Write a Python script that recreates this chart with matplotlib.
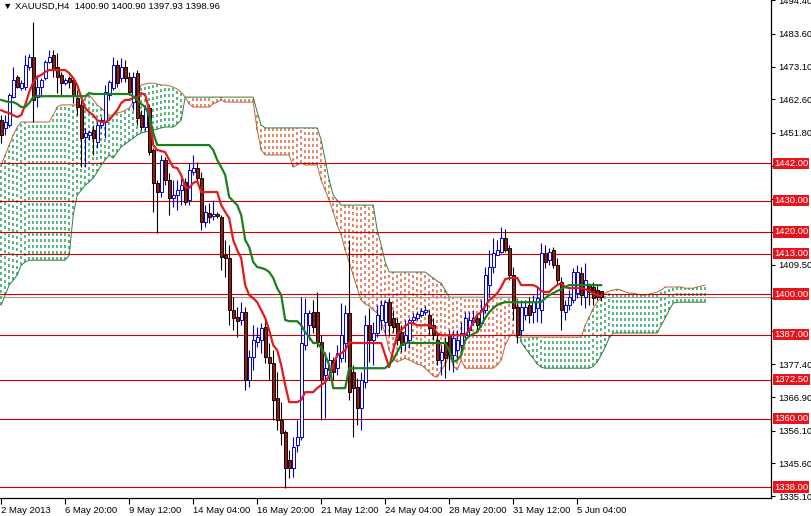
import numpy as np
import matplotlib
matplotlib.use('Agg')
from matplotlib import pyplot as plt
from matplotlib.transforms import blended_transform_factory

plt.rcParams['font.family'] = ['Liberation Sans', 'DejaVu Sans']
plt.rcParams['lines.scale_dashes'] = False

# XAUUSD H4 candles
opens = [
    1455.9, 1453.4, 1454.3, 1463.3, 1469.8, 1466.2, 1466.5, 1473.0, 1476.2, 1463.3,
    1466.5, 1469.4, 1474.6, 1476.8, 1473.0, 1470.4, 1467.8, 1469.4, 1468.8, 1463.0,
    1460.8, 1450.5, 1451.1, 1452.7, 1448.9, 1454.3, 1455.3, 1464.0, 1466.2, 1473.6,
    1469.4, 1473.0, 1469.8, 1461.7, 1471.0, 1457.5, 1453.7, 1459.8, 1446.3, 1435.7,
    1432.8, 1443.1, 1436.6, 1430.9, 1431.8, 1433.4, 1436.0, 1430.2, 1439.2, 1440.5,
    1437.3, 1423.1, 1426.0, 1425.1, 1425.7, 1424.8, 1412.5, 1411.6, 1394.9, 1392.6,
    1391.7, 1394.2, 1372.4, 1379.8, 1384.6, 1385.2, 1389.4, 1379.8, 1377.8, 1366.6,
    1359.5, 1355.6, 1346.7, 1344.1, 1351.5, 1354.0, 1383.6, 1390.0, 1394.2, 1394.2,
    1384.6, 1374.0, 1375.6, 1378.8, 1376.2, 1379.4, 1384.3, 1393.9, 1375.0, 1370.1,
    1363.4, 1371.7, 1390.0, 1385.2, 1387.5, 1391.7, 1391.0, 1397.4, 1392.3, 1390.7,
    1387.8, 1384.6, 1385.2, 1391.7, 1392.3, 1393.3, 1394.2, 1393.3, 1390.0, 1385.2,
    1378.8, 1384.6, 1386.8, 1380.4, 1382.0, 1383.6, 1386.8, 1388.4, 1391.0, 1392.3,
    1390.7, 1394.9, 1402.9, 1408.7, 1412.5, 1413.5, 1418.0, 1414.8, 1406.1, 1395.8,
    1388.4, 1393.3, 1396.5, 1394.2, 1395.5, 1394.9, 1413.2, 1410.9, 1414.1, 1409.3,
    1403.9, 1394.2, 1396.5, 1398.1, 1400.3, 1406.8, 1399.0, 1402.9, 1402.3, 1401.3,
    1400.90,
]
highs = [
    1457.5, 1457.5, 1464.6, 1473.0, 1470.4, 1468.8, 1476.8, 1477.1, 1487.4, 1470.4,
    1469.4, 1475.2, 1478.4, 1478.4, 1477.5, 1471.4, 1469.4, 1470.1, 1469.8, 1465.6,
    1462.4, 1453.4, 1452.7, 1454.3, 1455.3, 1456.9, 1467.2, 1468.8, 1476.2, 1475.2,
    1475.8, 1475.2, 1471.4, 1471.4, 1472.0, 1459.1, 1460.8, 1460.8, 1446.9, 1436.6,
    1444.7, 1444.0, 1438.9, 1436.6, 1436.6, 1437.3, 1437.3, 1442.1, 1444.7, 1442.4,
    1439.2, 1428.6, 1429.3, 1430.2, 1426.4, 1425.4, 1417.4, 1415.8, 1399.0, 1395.8,
    1397.4, 1395.8, 1382.0, 1390.0, 1389.4, 1390.7, 1392.6, 1384.3, 1382.0, 1375.0,
    1365.3, 1356.3, 1349.9, 1354.0, 1359.5, 1399.0, 1398.7, 1394.9, 1398.1, 1400.7,
    1386.8, 1381.4, 1381.4, 1379.8, 1383.6, 1397.1, 1396.5, 1417.4, 1377.2, 1373.0,
    1375.0, 1393.3, 1395.5, 1391.0, 1396.5, 1398.1, 1398.1, 1398.7, 1394.9, 1392.3,
    1390.0, 1391.7, 1392.3, 1393.9, 1394.5, 1395.5, 1396.2, 1394.9, 1392.3, 1387.5,
    1383.6, 1386.2, 1388.4, 1388.4, 1388.4, 1391.0, 1394.2, 1394.2, 1394.9, 1393.3,
    1398.1, 1408.7, 1414.1, 1418.0, 1417.4, 1421.5, 1420.9, 1415.8, 1408.7, 1397.1,
    1398.1, 1398.1, 1399.0, 1399.7, 1402.3, 1416.4, 1415.8, 1414.8, 1415.1, 1411.6,
    1405.5, 1398.1, 1401.3, 1408.4, 1409.3, 1408.7, 1410.0, 1403.5, 1403.9, 1403.2,
    1400.90,
]
lows = [
    1448.5, 1451.1, 1453.7, 1463.0, 1466.2, 1465.6, 1465.6, 1472.0, 1455.3, 1460.1,
    1463.3, 1468.8, 1474.3, 1469.8, 1464.6, 1464.0, 1467.2, 1466.2, 1461.4, 1457.5,
    1440.8, 1440.8, 1449.5, 1444.7, 1446.9, 1453.4, 1450.1, 1462.4, 1465.6, 1466.5,
    1468.1, 1468.1, 1464.0, 1459.1, 1454.3, 1452.7, 1452.7, 1444.7, 1426.4, 1419.6,
    1431.2, 1435.0, 1425.4, 1428.0, 1427.0, 1428.6, 1428.6, 1428.6, 1438.3, 1436.0,
    1420.6, 1421.5, 1422.8, 1423.8, 1424.4, 1407.7, 1405.5, 1390.0, 1388.4, 1386.2,
    1390.0, 1369.2, 1370.1, 1375.6, 1383.0, 1381.0, 1377.8, 1372.4, 1359.5, 1356.3,
    1351.5, 1337.7, 1340.9, 1341.2, 1349.2, 1353.1, 1382.0, 1385.2, 1387.5, 1383.0,
    1359.5, 1360.2, 1372.4, 1372.4, 1374.0, 1378.2, 1378.2, 1366.0, 1354.0, 1357.9,
    1356.3, 1369.8, 1378.2, 1377.2, 1386.2, 1388.4, 1386.8, 1386.8, 1387.8, 1383.6,
    1381.4, 1382.0, 1382.7, 1390.7, 1391.7, 1392.6, 1393.3, 1386.8, 1385.2, 1377.2,
    1374.0, 1373.0, 1375.6, 1374.9, 1378.8, 1380.4, 1385.2, 1386.8, 1390.0, 1387.8,
    1389.4, 1393.9, 1399.0, 1406.8, 1412.5, 1413.2, 1413.5, 1404.5, 1391.7, 1384.3,
    1386.8, 1391.7, 1390.7, 1390.7, 1391.0, 1390.7, 1408.4, 1409.3, 1408.4, 1402.9,
    1388.4, 1391.7, 1394.9, 1397.1, 1398.7, 1396.5, 1395.5, 1396.5, 1396.5, 1398.1,
    1397.93,
]
closes = [
    1451.1, 1455.3, 1464.0, 1468.8, 1466.5, 1467.8, 1473.6, 1476.2, 1462.4, 1466.5,
    1468.8, 1474.6, 1476.2, 1472.0, 1469.8, 1467.8, 1468.8, 1468.1, 1464.0, 1460.1,
    1450.1, 1451.8, 1452.1, 1450.1, 1454.3, 1455.9, 1464.9, 1468.1, 1473.6, 1467.8,
    1473.0, 1469.4, 1464.9, 1469.8, 1456.6, 1453.7, 1459.8, 1445.6, 1435.7, 1432.8,
    1443.1, 1436.6, 1430.9, 1431.8, 1433.4, 1435.0, 1429.6, 1439.9, 1440.5, 1437.3,
    1423.1, 1426.4, 1424.8, 1425.7, 1425.1, 1411.9, 1411.6, 1394.9, 1392.3, 1391.3,
    1394.2, 1372.4, 1379.8, 1385.2, 1386.2, 1389.1, 1379.8, 1377.8, 1366.0, 1359.5,
    1355.3, 1344.1, 1344.1, 1350.8, 1354.0, 1384.3, 1393.9, 1393.9, 1389.4, 1384.6,
    1372.4, 1376.2, 1378.8, 1375.0, 1381.0, 1386.8, 1393.9, 1368.5, 1369.8, 1363.4,
    1372.4, 1390.0, 1385.2, 1387.5, 1393.3, 1396.5, 1397.4, 1390.0, 1389.4, 1385.2,
    1383.6, 1386.8, 1391.7, 1392.6, 1393.6, 1394.5, 1394.9, 1389.1, 1386.8, 1378.8,
    1381.4, 1379.4, 1380.4, 1385.9, 1385.2, 1387.5, 1392.3, 1391.7, 1392.3, 1390.0,
    1394.9, 1406.1, 1408.7, 1413.2, 1414.1, 1418.0, 1414.1, 1406.1, 1395.5, 1386.8,
    1395.8, 1395.8, 1393.3, 1397.4, 1398.7, 1413.2, 1410.3, 1413.5, 1409.3, 1404.5,
    1394.9, 1396.5, 1399.0, 1407.1, 1407.1, 1399.7, 1404.5, 1400.7, 1398.7, 1399.0,
    1398.96,
]

# Ichimoku lines as drawn on the chart
tenkan = [
    1459.1, 1458.5, 1458.2, 1457.5, 1456.9, 1457.5, 1460.8, 1464.9, 1468.1, 1469.8,
    1470.4, 1471.4, 1472.0, 1472.0, 1472.0, 1472.0, 1472.0, 1471.0, 1469.4, 1467.2,
    1463.3, 1459.8, 1458.5, 1457.5, 1455.9, 1455.3, 1455.3, 1455.9, 1457.5, 1459.1,
    1461.4, 1462.4, 1462.4, 1463.0, 1463.3, 1464.6, 1464.0, 1459.1, 1447.9, 1446.3,
    1446.0, 1445.6, 1443.1, 1440.8, 1440.5, 1438.3, 1434.4, 1434.1, 1435.7, 1436.3,
    1432.8, 1432.8, 1432.8, 1432.8, 1432.8, 1428.6, 1426.4, 1424.4, 1417.4, 1414.1,
    1411.6, 1402.9, 1399.7, 1398.7, 1397.4, 1394.9, 1392.3, 1388.4, 1383.6, 1382.0,
    1377.2, 1370.8, 1365.3, 1365.3, 1365.3, 1366.0, 1368.5, 1368.5, 1368.5, 1369.8,
    1370.8, 1371.7, 1373.7, 1377.2, 1380.4, 1381.0, 1382.0, 1384.6, 1384.3, 1384.3,
    1384.3, 1384.3, 1384.3, 1384.3, 1384.3, 1384.3, 1380.4, 1376.5, 1382.0, 1386.8,
    1388.4, 1389.7, 1390.7, 1390.7, 1390.0, 1390.0, 1390.0, 1390.0, 1389.4, 1387.5,
    1386.8, 1386.8, 1386.8, 1386.8, 1386.8, 1386.8, 1386.8, 1388.4, 1391.0, 1393.3,
    1394.2, 1396.2, 1398.1, 1399.0, 1400.3, 1402.3, 1404.8, 1405.2, 1405.2, 1405.2,
    1402.9, 1402.9, 1402.9, 1402.9, 1402.3, 1401.0, 1400.7, 1400.7, 1401.9, 1402.9,
    1403.5, 1402.3, 1401.9, 1401.9, 1401.9, 1401.9, 1401.6, 1401.0, 1400.3, 1399.7,
    1399.4,
]
kijun = [
    1462.4, 1462.0, 1461.7, 1461.7, 1461.1, 1460.1, 1460.1, 1461.4, 1463.3, 1463.6,
    1463.6, 1463.6, 1463.6, 1463.6, 1463.6, 1463.6, 1463.6, 1463.6, 1463.6, 1463.6,
    1463.6, 1463.6, 1464.6, 1464.3, 1464.3, 1464.3, 1464.3, 1464.3, 1464.3, 1464.3,
    1464.3, 1464.3, 1464.3, 1463.6, 1462.4, 1461.1, 1460.1, 1457.5, 1451.8, 1447.9,
    1447.9, 1447.9, 1447.9, 1447.9, 1447.9, 1447.9, 1447.9, 1447.9, 1447.9, 1447.9,
    1447.9, 1447.9, 1447.9, 1446.3, 1443.1, 1440.8, 1438.3, 1431.2, 1429.9, 1428.6,
    1425.4, 1417.4, 1415.1, 1410.3, 1408.7, 1408.4, 1408.0, 1407.1, 1405.2, 1401.9,
    1399.7, 1391.7, 1391.3, 1391.3, 1391.3, 1390.0, 1387.8, 1386.2, 1384.3, 1384.3,
    1382.7, 1380.4, 1377.2, 1369.8, 1369.8, 1369.8, 1369.8, 1376.2, 1376.2, 1376.2,
    1376.2, 1376.2, 1376.2, 1376.2, 1376.2, 1376.2, 1376.2, 1377.5, 1378.8, 1381.4,
    1383.6, 1384.3, 1384.3, 1384.3, 1384.3, 1384.3, 1384.3, 1384.3, 1384.3, 1384.3,
    1384.3, 1384.3, 1382.0, 1378.2, 1378.8, 1380.4, 1385.2, 1386.5, 1387.2, 1387.8,
    1390.0, 1392.3, 1394.2, 1395.5, 1396.5, 1397.1, 1397.4, 1397.4, 1397.4, 1397.4,
    1397.4, 1397.4, 1397.4, 1397.4, 1397.4, 1397.4, 1398.7, 1399.7, 1400.3, 1401.0,
    1401.6, 1402.3, 1402.9, 1402.9, 1402.9, 1402.9, 1402.9, 1402.9, 1402.9, 1402.9,
    1402.9,
]
# cloud spans, shifted 26 bars ahead of price
span_a = [
    1441.5, 1444.7, 1447.9, 1451.1, 1453.7, 1455.3, 1455.3, 1455.3, 1455.3, 1455.3,
    1455.3, 1455.3, 1455.3, 1457.5, 1460.1, 1460.8, 1460.8, 1460.8, 1460.8, 1460.8,
    1460.8, 1463.0, 1464.0, 1462.4, 1460.8, 1459.8, 1458.5, 1457.5, 1457.5, 1458.2,
    1458.5, 1459.1, 1459.8, 1461.7, 1464.0, 1467.2, 1467.5, 1467.8, 1467.8, 1467.5,
    1467.2, 1467.2, 1466.9, 1466.5, 1465.9, 1464.9, 1463.3, 1461.1, 1460.1, 1460.1,
    1460.1, 1460.1, 1460.1, 1461.1, 1461.7, 1462.4, 1461.7, 1461.7, 1461.7, 1461.7,
    1461.7, 1461.7, 1461.7, 1461.7, 1452.7, 1446.3, 1444.7, 1444.7, 1444.7, 1444.7,
    1444.7, 1444.7, 1444.7, 1440.8, 1441.5, 1442.1, 1441.5, 1441.5, 1441.5, 1441.5,
    1436.6, 1433.4, 1430.2, 1426.4, 1422.2, 1419.0, 1414.1, 1410.3, 1406.1, 1401.9,
    1398.1, 1396.8, 1396.2, 1394.9, 1393.9, 1391.0, 1387.5, 1382.0, 1379.4, 1378.2,
    1378.8, 1379.4, 1378.8, 1378.2, 1377.5, 1377.2, 1376.2, 1375.0, 1373.7, 1373.3,
    1375.6, 1377.2, 1380.4, 1377.2, 1375.6, 1378.8, 1376.2, 1376.2, 1376.2, 1376.2,
    1376.2, 1376.2, 1376.2, 1376.2, 1377.2, 1378.8, 1383.6, 1386.2, 1387.5, 1385.9,
    1386.2, 1386.2, 1386.2, 1386.2, 1386.2, 1386.2, 1386.2, 1386.2, 1386.2, 1386.2,
    1386.2, 1386.2, 1386.2, 1386.2, 1386.2, 1386.2, 1390.0, 1392.6, 1395.5, 1397.4,
    1399.0, 1400.3, 1401.0, 1401.3, 1401.6, 1401.3, 1400.7, 1400.3, 1400.3, 1400.0,
    1399.7, 1399.7, 1400.0, 1400.3, 1400.7, 1401.3, 1402.3, 1402.3, 1402.3, 1402.3,
    1402.3, 1401.9, 1401.9, 1401.9, 1402.3, 1402.6, 1402.9,
]
span_b = [
    1396.5, 1399.7, 1402.9, 1404.5, 1406.1, 1409.3, 1410.3, 1410.9, 1410.9, 1410.9,
    1410.9, 1410.9, 1410.9, 1410.9, 1410.9, 1410.9, 1410.9, 1412.5, 1425.4, 1431.8,
    1433.4, 1435.0, 1436.0, 1437.3, 1439.2, 1441.5, 1443.1, 1444.7, 1443.7, 1445.6,
    1447.3, 1448.2, 1449.2, 1450.1, 1451.1, 1451.8, 1452.1, 1452.4, 1452.7, 1453.0,
    1453.4, 1453.7, 1453.7, 1453.7, 1454.6, 1455.9, 1463.3, 1463.3, 1463.3, 1463.3,
    1463.3, 1463.3, 1463.3, 1463.3, 1463.3, 1463.3, 1463.3, 1463.3, 1463.3, 1463.3,
    1463.3, 1463.3, 1463.3, 1463.3, 1458.5, 1454.3, 1453.4, 1453.4, 1453.4, 1453.4,
    1453.4, 1453.4, 1453.4, 1453.4, 1453.4, 1453.4, 1453.4, 1453.4, 1453.4, 1453.4,
    1449.5, 1443.1, 1436.6, 1431.8, 1430.2, 1428.6, 1428.6, 1428.6, 1428.6, 1428.6,
    1428.6, 1428.6, 1428.6, 1428.6, 1420.6, 1415.8, 1410.3, 1407.1, 1407.1, 1407.1,
    1407.1, 1407.1, 1407.1, 1407.1, 1407.1, 1407.1, 1407.1, 1406.1, 1405.2, 1404.2,
    1403.5, 1401.3, 1399.0, 1399.0, 1399.0, 1399.0, 1399.0, 1399.0, 1399.0, 1399.0,
    1399.0, 1399.0, 1399.0, 1399.0, 1399.0, 1399.0, 1399.0, 1399.0, 1399.0, 1399.0,
    1384.6, 1382.7, 1381.0, 1379.4, 1377.5, 1376.5, 1376.2, 1376.2, 1376.2, 1376.2,
    1376.2, 1376.2, 1376.2, 1376.2, 1376.2, 1376.2, 1376.2, 1376.2, 1376.8, 1378.2,
    1380.4, 1383.0, 1385.9, 1387.5, 1387.5, 1387.5, 1387.5, 1387.5, 1387.5, 1387.5,
    1387.5, 1387.5, 1387.5, 1387.5, 1387.5, 1390.0, 1392.3, 1394.9, 1397.1, 1397.4,
    1397.4, 1397.4, 1397.4, 1397.4, 1397.4, 1397.4, 1397.4,
]

levels = [1442.0, 1430.0, 1420.0, 1413.0, 1400.0, 1387.0, 1372.5, 1360.0, 1338.0]
last_price = 1398.96
price_ticks = [1494.40, 1483.60, 1473.10, 1462.60, 1451.80, 1441.30, 1430.50, 1420.00,
               1409.50, 1398.70, 1388.20, 1377.40, 1366.90, 1356.10, 1345.60, 1335.10]
time_labels = ['2 May 2013', '6 May 20:00', '9 May 12:00', '14 May 04:00', '16 May 20:00',
               '21 May 12:00', '24 May 04:00', '28 May 20:00', '31 May 12:00', '5 Jun 04:00']
title = '\u25bc XAUUSD,H4  1400.90 1400.90 1397.93 1398.96'

o, h, l, c = (np.array(v) for v in (opens, highs, lows, closes))
x = np.arange(len(c))
sa, sb = np.array(span_a), np.array(span_b)
xs = np.arange(len(sa))

fig = plt.figure(figsize=(8.11, 5.16), dpi=100)
ax = fig.add_axes([0, 18 / 516, 771 / 811, 498 / 516])
ax.set_xlim(-0.3, 192.45)
ax.set_ylim(1334.5, 1494.5)

# dotted cloud: green where span A is above span B, brown-red otherwise
bull = sa >= sb
dots = (0, (1.6, 2.4))
ax.vlines(xs[bull], sb[bull], sa[bull], colors='#5cb882', linestyles=dots, lw=1.1,
          zorder=1, antialiased=False)
ax.vlines(xs[~bull], sa[~bull], sb[~bull], colors='#e48a6e', linestyles=dots, lw=1.1,
          zorder=1, antialiased=False)
ax.plot(xs, sa, color='#b8643c', lw=0.7, zorder=1.2)
ax.plot(xs, sb, color='#2f7d3c', lw=0.7, zorder=1.2)

for lv in levels:
    ax.axhline(lv, color='#cc0000', lw=0.8, zorder=2)
ax.axhline(last_price, color='#9a9a9a', lw=0.8, zorder=1.9)

# candles
up = c >= o
ax.vlines(x[up], l[up], h[up], color='#0000cc', lw=0.8, zorder=3)
ax.vlines(x[~up], l[~up], h[~up], color='black', lw=0.8, zorder=3)
lo = np.minimum(o, c)
hgt = np.maximum(np.abs(c - o), 0.35)
ax.bar(x[up], hgt[up], bottom=lo[up], width=0.7, color='white', edgecolor='#0000cc',
       lw=0.7, zorder=4)
ax.bar(x[~up], hgt[~up], bottom=lo[~up], width=0.7, color='#8b1c1c', edgecolor='#1a0000',
       lw=0.7, zorder=4)

ax.plot(x, tenkan, color='#e01b1b', lw=1.6, zorder=5)
ax.plot(x, kijun, color='#1b7f1b', lw=1.6, zorder=5)

# axes cosmetics
for side in ('left', 'top'):
    ax.spines[side].set_visible(False)
for side in ('right', 'bottom'):
    ax.spines[side].set_linewidth(0.9)
ax.yaxis.tick_right()
ax.set_yticks(price_ticks)
# labels sitting under a level box are hidden on the chart
hidden = [any(abs(t - lv) < 2.5 for lv in levels) for t in price_ticks]
ax.set_yticklabels(['' if hd else f'{t:.2f}' for t, hd in zip(price_ticks, hidden)])
ax.set_xticks(np.arange(len(time_labels)) * 16)
ax.set_xticklabels(time_labels, ha='left')
ax.tick_params(axis='y', labelsize=6.8, length=3, width=0.8, pad=2)
ax.tick_params(axis='x', labelsize=6.8, length=4, width=0.8, pad=2)

tr = blended_transform_factory(ax.transAxes, ax.transData)
for lv in levels:
    ax.text(1.004, lv, f'{lv:.2f}', transform=tr, ha='left', va='center', fontsize=6.8,
            color='white', zorder=10, clip_on=False,
            bbox=dict(boxstyle='square,pad=0.12', fc='#e8141c', ec='none'))

ax.text(3 / 771, 1 - 6 / 498, title, transform=ax.transAxes, ha='left', va='center',
        fontsize=6.8, color='black', zorder=10)

fig.savefig('out.png', dpi=100)
